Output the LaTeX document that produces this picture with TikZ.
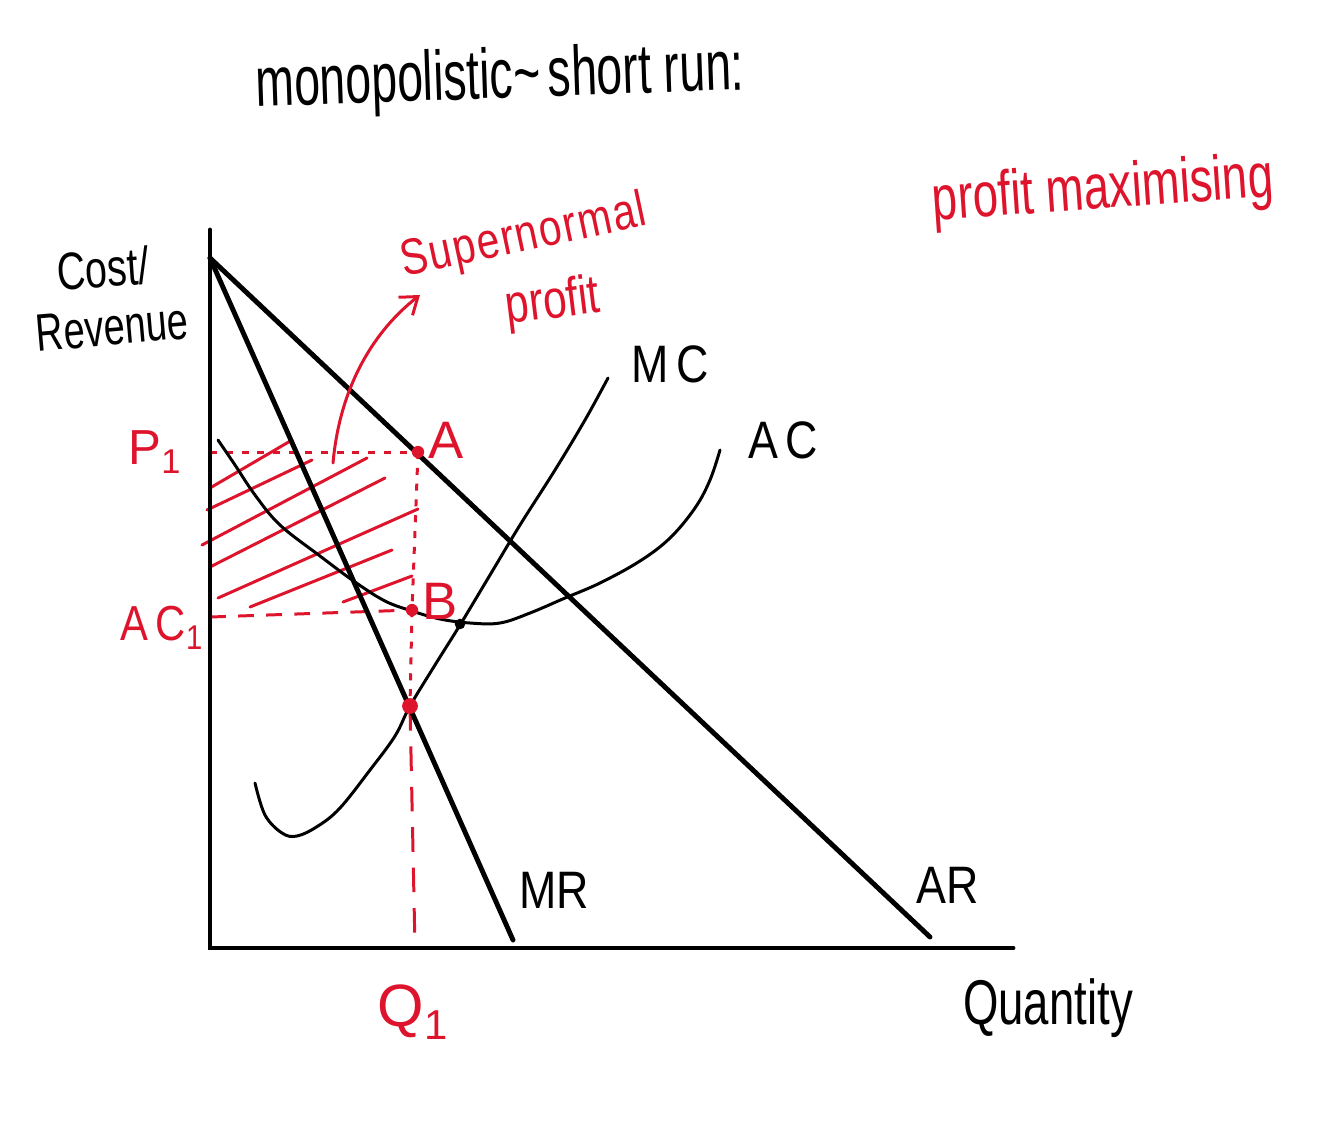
\documentclass[tikz,border=0pt]{standalone}
\usepackage{fontspec}
\setmainfont{Liberation Sans}
\usetikzlibrary{arrows.meta}
\definecolor{pen}{RGB}{222,20,45}
\begin{document}
\begin{tikzpicture}[x=0.02cm,y=-0.02cm,
  axisline/.style={line width=2.8pt, line cap=round},
  curveline/.style={line width=1.7pt, line cap=round},
  hatchline/.style={pen, line width=1.7pt, line cap=round},
  dotline/.style={pen, line width=1.7pt, dash pattern=on 4pt off 5pt},
  dashline/.style={pen, line width=1.7pt, dash pattern=on 9pt off 7pt},
  lbl/.style={inner sep=0pt, font=\fontsize{30}{34}\selectfont},
  rlbl/.style={lbl, text=pen},
  dotmark/.style={circle, fill=pen, inner sep=0pt, minimum size=#1}]
\useasboundingbox (0,0) rectangle (1334,1123);

% key points
\coordinate (O) at (210,948);
\coordinate (Ytop) at (210,230);
\coordinate (Xend) at (1013,948);
\coordinate (Top) at (210,258);
\coordinate (ARend) at (930,937);
\coordinate (MRend) at (513,940);
\coordinate (A) at (418,452);
\coordinate (B) at (412,610);
\coordinate (E) at (410,706);
\coordinate (Q) at (415,948);
\coordinate (P) at (210,452);
\coordinate (ACl) at (210,617);
\coordinate (ArrStart) at (333,463);
\coordinate (ArrEnd) at (420,295);

% hatching of supernormal profit
\draw[hatchline] (210,488) -- (292,440);
\draw[hatchline] (207,510) -- (312,460);
\draw[hatchline] (202,545) -- (367,458);
\draw[hatchline] (210,567) -- (385,478);
\draw[hatchline] (218,598) -- (418,509);
\draw[hatchline] (250,607) -- (392,550);
\draw[hatchline] (343,602) -- (412,576);

% guide lines
\draw[dotline] (P) -- (A);
\draw[dotline] (A) -- (B) -- (E);
\draw[dashline] (ACl) -- (B);
\draw[pen, line width=1.7pt, dash pattern=on 14pt off 9pt] (E) -- (Q);

% axes and revenue lines
\draw[axisline] (Ytop) -- (O) -- (Xend);
\draw[axisline] (Top) -- (ARend);
\draw[axisline] (Top) -- (MRend);

% MC curve
\draw[curveline] plot[smooth, tension=0.6] coordinates {(255,783) (265,815) (282,833) (297,836) (318,826) (340,808) (370,770) (395,736) (410,706) (435,665) (460,625) (490,575) (520,525) (555,470) (585,420) (608,378)};
% AC curve
\draw[curveline] plot[smooth, tension=0.6] coordinates {(218,440) (235,465) (255,495) (280,525) (320,556) (355,582) (385,601) (412,611) (440,619) (470,623) (500,623) (530,613) (565,598) (600,583) (640,561) (670,538) (695,508) (710,480) (720,450)};
\fill (460,624) circle (3pt);

% points
\node[dotmark=7pt] (Adot) at (A) {};
\node[dotmark=7pt] (Bdot) at (B) {};
\node[dotmark=9pt] (Edot) at (E) {};

% arrow to label
\draw[pen, line width=1.7pt, line cap=round, -{Straight Barb[length=9pt, width=13pt, line width=1.7pt]}] (ArrStart) .. controls (340,385) and (375,330) .. (ArrEnd);

% labels
\node[lbl, font=\fontsize{40}{44}\selectfont, rotate=2] (title) at (500,80) {\scalebox{0.66}[1]{monopolistic\textasciitilde\,short run:}};
\node[rlbl, font=\fontsize{36}{40}\selectfont, rotate=4] (pm) at (1103,192) {\scalebox{0.72}[1]{profit maximising}};
\node[rlbl, font=\fontsize{29}{34}\selectfont, rotate=12] (sup) at (524,238) {\addfontfeature{LetterSpace=4}\scalebox{0.8}[1]{Supernormal}};
\node[rlbl, font=\fontsize{31}{36}\selectfont, rotate=7] (prof) at (553,304) {\scalebox{0.78}[1]{profit}};
\node[lbl, rotate=4] (cost) at (103,268) {\scalebox{0.75}[1]{Cost/}};
\node[lbl, rotate=5] (rev) at (112,327) {\scalebox{0.72}[1]{Revenue}};
\node[rlbl, font=\fontsize{28}{32}\selectfont] (p1) at (155,452) {P\textsubscript{1}};
\node[rlbl, font=\fontsize{28}{32}\selectfont] (ac1) at (162,628) {\scalebox{0.85}[1]{A\,C\textsubscript{1}}};
\node[rlbl] (al) at (446,440) {A};
\node[rlbl] (bl) at (440,601) {B};
\node[lbl] (mc) at (670,364) {\scalebox{0.85}[1]{M\,C}};
\node[lbl] (acl) at (783,440) {\scalebox{0.85}[1]{A\,C}};
\node[lbl] (mr) at (554,890) {\scalebox{0.85}[1]{MR}};
\node[lbl] (ar) at (948,885) {\scalebox{0.85}[1]{AR}};
\node[rlbl, font=\fontsize{34}{38}\selectfont] (q1) at (413,1012) {Q\textsubscript{1}};
\node[lbl, font=\fontsize{36}{40}\selectfont] (qty) at (1048,1008) {\scalebox{0.72}[1]{Quantity}};
\end{tikzpicture}
\end{document}
